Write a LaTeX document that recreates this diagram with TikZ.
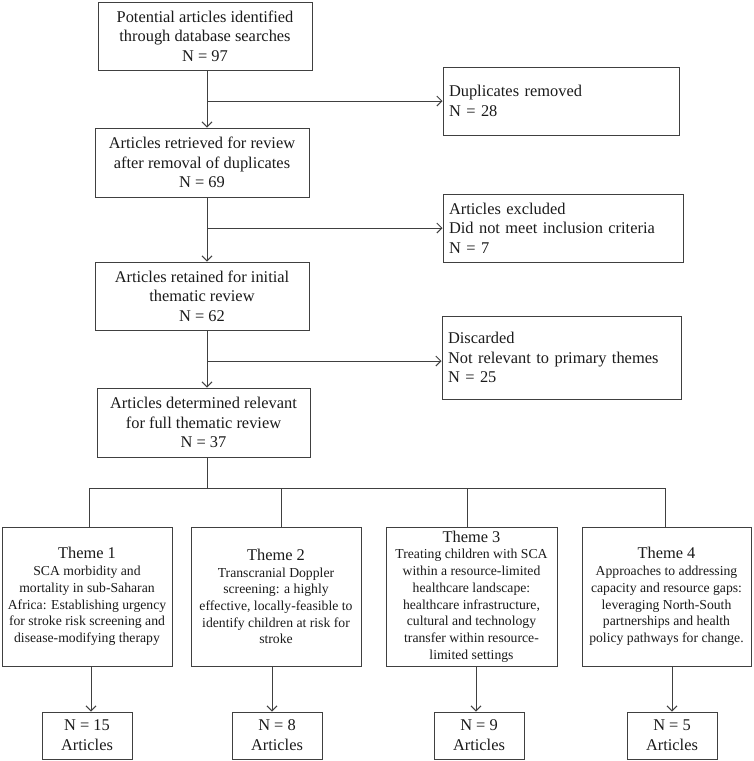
\documentclass[tikz,border=0pt]{standalone}
\usepackage{fontspec}
\setmainfont{Liberation Serif}
\usetikzlibrary{arrows.meta}
\definecolor{lc}{HTML}{404040}
\definecolor{tc}{HTML}{1A1A1A}
\begin{document}
\begin{tikzpicture}[x=1pt,y=-1pt,
  line/.style={draw=lc, line width=1pt},
  arr/.style={line, -{Straight Barb[length=5pt,width=10pt]}},
  mainbox/.style={draw=lc, line width=1pt, inner sep=0pt, align=center, text=tc, font=\fontsize{16.4}{19.6}\selectfont},
  sidebox/.style={draw=lc, line width=1pt, inner xsep=6pt, inner ysep=0pt, align=left, text=tc, font=\fontsize{16.4}{19.6}\selectfont},
  themebox/.style={draw=lc, line width=1pt, inner sep=0pt, align=center, text=tc, minimum height=139pt, font=\fontsize{13.7}{16.7}\selectfont},
  nbox/.style={draw=lc, line width=1pt, inner sep=0pt, align=center, text=tc, minimum width=90pt, minimum height=47pt, font=\fontsize{16.4}{20}\selectfont},
  ttl/.style={}
]
\useasboundingbox (0,0) rectangle (754,761);

\node[mainbox, minimum width=214pt, minimum height=68pt] (b1) at (205,36) {Potential articles identified\\through database searches\\N = 97};
\node[mainbox, minimum width=214pt, minimum height=69pt] (b2) at (202,162.5) {Articles retrieved for review\\after removal of duplicates\\N = 69};
\node[mainbox, minimum width=214pt, minimum height=68pt] (b3) at (202,296) {Articles retained for initial\\thematic review\\N = 62};
\node[mainbox, minimum width=213pt, minimum height=69pt] (b4) at (203.5,422.5) {Articles determined relevant\\for full thematic review\\N = 37};

\node[sidebox, text width=224pt, minimum height=68pt] (d1) at (561,101) {Duplicates removed\\N = 28};
\node[sidebox, text width=228pt, minimum height=68pt] (d2) at (563,228) {Articles excluded\\Did not meet inclusion criteria\\N = 7};
\node[sidebox, text width=227pt, minimum height=83pt] (d3) at (561.5,357.5) {Discarded\\Not relevant to primary themes\\N = 25};

\node[themebox, minimum width=170pt] (t1) at (87,596.5) {{\fontsize{16.4}{18}\selectfont Theme 1}\\SCA morbidity and\\mortality in sub-Saharan\\Africa: Establishing urgency\\for stroke risk screening and\\disease-modifying therapy};
\node[themebox, minimum width=170pt] (t2) at (276,596.5) {{\fontsize{16.4}{18}\selectfont Theme 2}\\Transcranial Doppler\\screening: a highly\\effective, locally-feasible to\\identify children at risk for\\stroke};
\node[themebox, minimum width=171pt] (t3) at (471.5,596.5) {{\fontsize{16.4}{18}\selectfont Theme 3}\\Treating children with SCA\\within a resource-limited\\healthcare landscape:\\healthcare infrastructure,\\cultural and technology\\transfer within resource-\\limited settings};
\node[themebox, minimum width=169pt] (t4) at (666.5,596.5) {{\fontsize{16.4}{18}\selectfont Theme 4}\\Approaches to addressing\\capacity and resource gaps:\\leveraging North-South\\partnerships and health\\policy pathways for change.};

\node[nbox] (n1) at (87,735.5) {N = 15\\Articles};
\node[nbox] (n2) at (277,735.5) {N = 8\\Articles};
\node[nbox] (n3) at (479,735.5) {N = 9\\Articles};
\node[nbox] (n4) at (672,735.5) {N = 5\\Articles};

\coordinate (tr) at (207,0);
\coordinate (j1) at (207,101);
\coordinate (j2) at (207,228);
\coordinate (j3) at (207,361);
\coordinate (j4) at (207,488);
\coordinate (h1) at (89,488);
\coordinate (h2) at (281,488);
\coordinate (h3) at (467,488);
\coordinate (h4) at (665,488);
\coordinate (a1) at (91,0);
\coordinate (a2) at (272,0);
\coordinate (a3) at (476,0);
\coordinate (a4) at (672,0);

\draw[arr] (b1.south -| tr) -- (b2.north -| tr);
\draw[arr] (b2.south -| tr) -- (b3.north -| tr);
\draw[arr] (b3.south -| tr) -- (b4.north -| tr);
\draw[arr] (j1) -- (d1.west |- j1);
\draw[arr] (j2) -- (d2.west |- j2);
\draw[arr] (j3) -- (d3.west |- j3);
\draw[line] (b4.south -| tr) -- (j4);
\draw[line] (h1) -- (h4);
\draw[line] (h1) -- (t1.north -| h1);
\draw[line] (h2) -- (t2.north -| h2);
\draw[line] (h3) -- (t3.north -| h3);
\draw[line] (h4) -- (t4.north -| h4);
\draw[arr] (t1.south -| a1) -- (n1.north -| a1);
\draw[arr] (t2.south -| a2) -- (n2.north -| a2);
\draw[arr] (t3.south -| a3) -- (n3.north -| a3);
\draw[arr] (t4.south -| a4) -- (n4.north -| a4);
\end{tikzpicture}
\end{document}
